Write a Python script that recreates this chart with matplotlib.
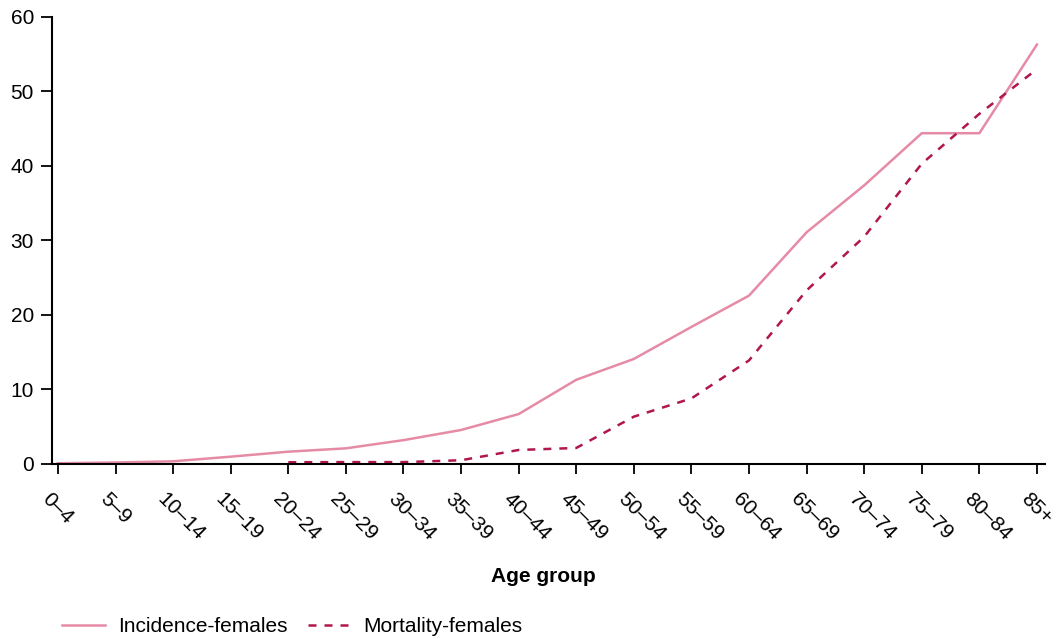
import matplotlib
matplotlib.use("Agg")
import matplotlib.pyplot as plt
from matplotlib.transforms import ScaledTranslation

age_groups = ["0–4", "5–9", "10–14", "15–19", "20–24", "25–29", "30–34", "35–39",
              "40–44", "45–49", "50–54", "55–59", "60–64", "65–69", "70–74",
              "75–79", "80–84", "85+"]
incidence = [0.1, 0.2, 0.36, 0.98, 1.65, 2.1, 3.2, 4.56, 6.7, 11.3, 14.1, 18.4,
             22.6, 31.1, 37.4, 44.4, 44.4, 56.3]
mortality = [None, None, None, None, 0.23, 0.25, 0.25, 0.5, 1.88, 2.15, 6.35,
             8.8, 13.9, 23.3, 30.5, 40.3, 47.0, 53.0]
y_ticks = [0, 10, 20, 30, 40, 50, 60]

plt.rcParams['font.family'] = ['Liberation Sans', 'DejaVu Sans']

fig = plt.figure(figsize=(10.56, 6.39), dpi=100)
ax = fig.add_axes([0.0492, 0.2739, 0.9404, 0.6995])

x = list(range(len(age_groups)))
mx = [i for i, v in zip(x, mortality) if v is not None]
mv = [v for v in mortality if v is not None]

ax.plot(x, incidence, color='#E68BA6', lw=1.8, label='Incidence-females')
ax.plot(mx, mv, color='#B0164F', lw=1.8, dashes=(3.2, 3.2), label='Mortality-females')

ax.set_xlim(-0.104, 17.14)
ax.set_ylim(0, 60)
ax.set_yticks(y_ticks)
ax.set_xticks(x)
ax.tick_params(axis='y', labelsize=15, length=8, width=1.3, direction='out', pad=5)
ax.tick_params(axis='x', length=7.5, width=1.3, direction='out', pad=11)
ax.set_xticklabels(age_groups, rotation=-45, ha='left', va='top',
                   rotation_mode='anchor', fontsize=15)
offset = ScaledTranslation(-6 / 100, 0, fig.dpi_scale_trans)
for lab in ax.get_xticklabels():
    lab.set_transform(lab.get_transform() + offset)
for s in ['top', 'right']:
    ax.spines[s].set_visible(False)
for s in ['left', 'bottom']:
    ax.spines[s].set_linewidth(1.5)

fig.text(543 / 1056, 1 - 576 / 639, 'Age group', ha='center', va='center',
         fontsize=15, fontweight='bold')
fig.legend(loc='center left', bbox_to_anchor=(62 / 1056, 1 - 627 / 639), ncol=2,
           frameon=False, fontsize=15, handlelength=2.05, columnspacing=1.0,
           handletextpad=0.62, borderpad=0, borderaxespad=0)

fig.savefig('out.png', dpi=100)
